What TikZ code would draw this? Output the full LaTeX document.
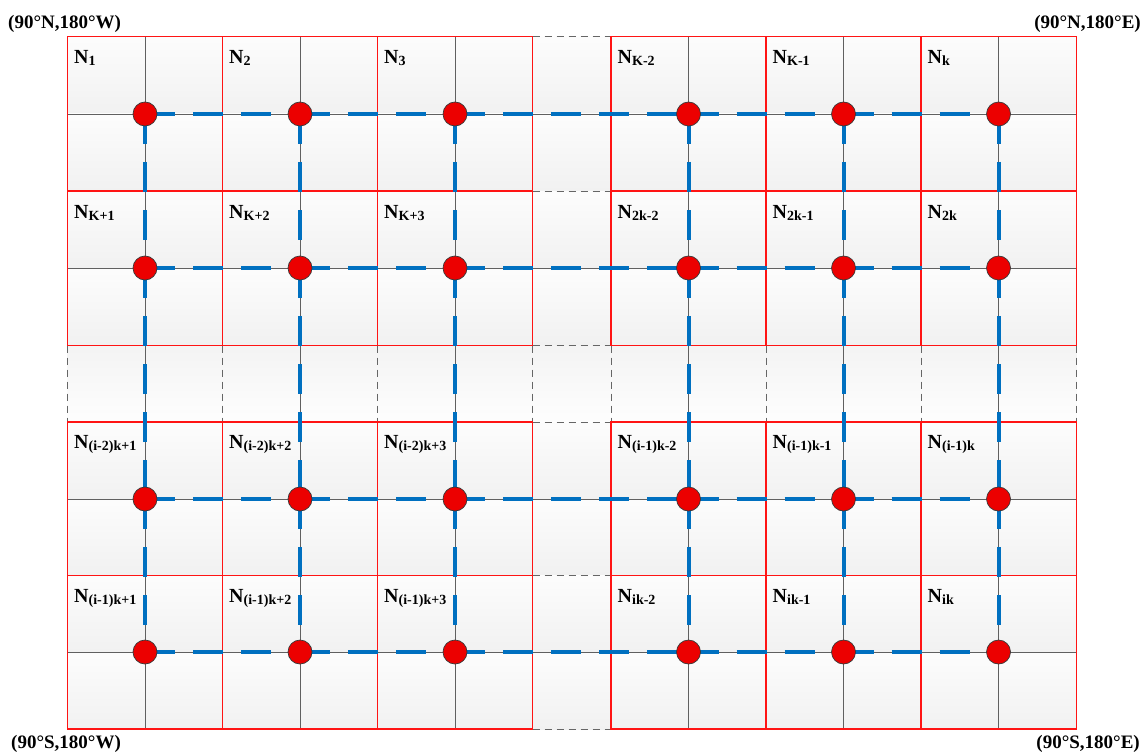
\documentclass[tikz,border=0pt]{standalone}
\usepackage{fontspec}
\setmainfont{Liberation Serif}
\definecolor{linkblue}{RGB}{0,112,192}
\definecolor{dotred}{RGB}{236,0,0}
\definecolor{cellred}{RGB}{255,20,20}
\newcommand\nsub[1]{\raisebox{-2pt}{\fontsize{14}{14}\selectfont #1}}
\begin{document}
\begin{tikzpicture}[x=1pt,y=-1pt,
  redcell/.style={draw=cellred, line width=1.6pt},
  gapline/.style={draw=gray!80!black, line width=0.9pt, dash pattern=on 7pt off 5pt},
  centerline/.style={draw=gray!75!black, line width=0.9pt},
  bluedash/.style={draw=linkblue, line width=4pt, dash pattern=on 30pt off 18pt},
  dotspot/.style={circle, minimum size=24pt, inner sep=0pt},
  dot/.style={circle, fill=dotred, draw=gray!45!black, line width=0.7pt, minimum size=24pt, inner sep=0pt},
  lab/.style={anchor=base west, inner sep=0pt, font=\bfseries\fontsize{20}{20}\selectfont},
  corner/.style={inner sep=0pt, font=\bfseries\fontsize{19}{19}\selectfont}]
\useasboundingbox (0,0) rectangle (1142,754);

% background: shading, grid lines, cell borders
\foreach \t/\b in {36.5/114, 114/191, 191/268, 268/345.5, 422/499, 499/575.5, 575.5/652, 652/729}
  \shade[top color=gray!2, bottom color=gray!11] (67.5,\t) rectangle (1076.5,\b);
\shade[top color=gray!9, bottom color=gray!1] (67.5,345.5) rectangle (1076.5,422);
\foreach \y in {114,268,499,652}
  \draw[centerline] (67.5,\y) -- (1076.5,\y);
\foreach \x in {145,300,455,688.5,843.5,998.5}
  \draw[centerline] (\x,36.5) -- (\x,729);
\foreach \y in {36.5,191,345.5,422,575.5,729}
  \draw[gapline] (532.5,\y) -- (611,\y);
\foreach \x in {67.5,222.5,377.5,532.5,611,766,921,1076.5}
  \draw[gapline] (\x,345.5) -- (\x,422);
\foreach \x/\xx in {67.5/222.5,222.5/377.5,377.5/532.5,611/766,766/921,921/1076.5}
  \foreach \y/\yy in {36.5/191,191/345.5,422/575.5,575.5/729}
    \draw[redcell] (\x,\y) rectangle (\xx,\yy);

% node positions
\foreach \y [count=\r] in {114,268,499,652}
  \foreach \x [count=\c] in {145,300,455,688.5,843.5,998.5}
    \node[dotspot] (p-\r-\c) at (\x,\y) {};

% links
\foreach \r in {1,2,3,4}
  \foreach \c/\cc in {1/2,2/3,3/4,4/5,5/6}
    \draw[bluedash] (p-\r-\c.center) -- (p-\r-\cc.center);
\foreach \c in {1,2,3,4,5,6}
  \foreach \r/\rr in {1/2,2/3,3/4}
    \draw[bluedash] (p-\r-\c.center) -- (p-\rr-\c.center);

% dots
\foreach \r in {1,2,3,4}
  \foreach \c in {1,2,3,4,5,6}
    \node[dot] (d-\r-\c) at (p-\r-\c) {};

% cell labels
\foreach \x/\s [count=\c] in {67.5/{1}, 222.5/{2}, 377.5/{3}, 611/{K-2}, 766/{K-1}, 921/{k}}
  \node[lab] (n-1-\c) at (\x+6.5,64) {N\nsub{\s}};
\foreach \x/\s [count=\c] in {67.5/{K+1}, 222.5/{K+2}, 377.5/{K+3}, 611/{2k-2}, 766/{2k-1}, 921/{2k}}
  \node[lab] (n-2-\c) at (\x+6.5,218.5) {N\nsub{\s}};
\foreach \x/\s [count=\c] in {67.5/{(i-2)k+1}, 222.5/{(i-2)k+2}, 377.5/{(i-2)k+3}, 611/{(i-1)k-2}, 766/{(i-1)k-1}, 921/{(i-1)k}}
  \node[lab] (n-3-\c) at (\x+6.5,448) {N\nsub{\s}};
\foreach \x/\s [count=\c] in {67.5/{(i-1)k+1}, 222.5/{(i-1)k+2}, 377.5/{(i-1)k+3}, 611/{ik-2}, 766/{ik-1}, 921/{ik}}
  \node[lab] (n-4-\c) at (\x+6.5,602.5) {N\nsub{\s}};

% corner labels
\node[corner, anchor=base west] (c-nw) at (8,29) {(90°N,180°W)};
\node[corner, anchor=base east] (c-ne) at (1141,29) {(90°N,180°E)};
\node[corner, anchor=base west] (c-sw) at (11,748) {(90°S,180°W)};
\node[corner, anchor=base east] (c-se) at (1140,748) {(90°S,180°E)};
\end{tikzpicture}
\end{document}
